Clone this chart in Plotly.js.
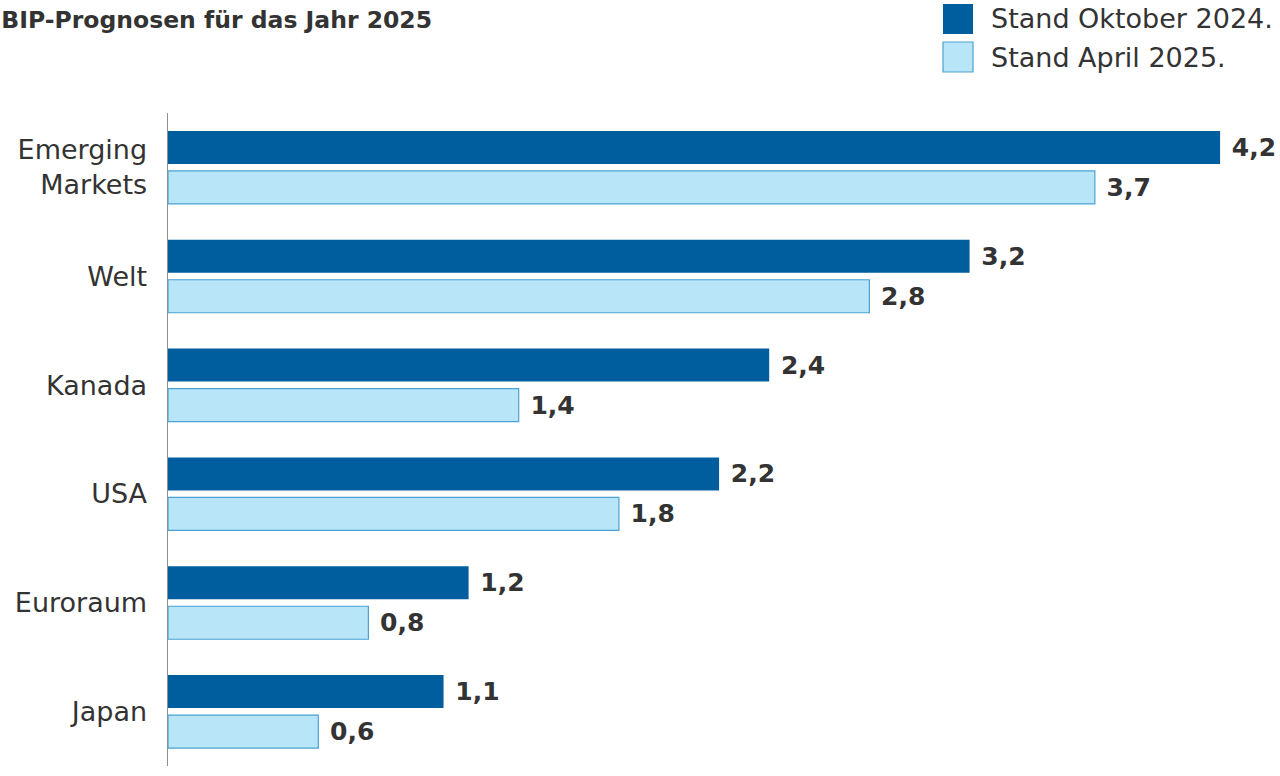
<!DOCTYPE html>
<html>
<head>
<meta charset="utf-8">
<script src="https://cdn.plot.ly/plotly-3.0.1.min.js"></script>
<style>
  html, body { margin: 0; padding: 0; background: #fff; }
  #chart { width: 1280px; height: 776px; }
</style>
</head>
<body>
<div id="chart"></div>
<script>
// ── Data ────────────────────────────────────────────────────────────
const categories = ["Emerging<br>Markets", "Welt", "Kanada", "USA", "Euroraum", "Japan"];
const seriesNames = ["Stand Oktober 2024.", "Stand April 2025."];
const oct2024 = [4.2, 3.2, 2.4, 2.2, 1.2, 1.1];
const apr2025 = [3.7, 2.8, 1.4, 1.8, 0.8, 0.6];

const DARK = "#005e9f";
const LIGHT = "#b9e5f9";
const LIGHT_LINE = "#4aa2d2";
const TEXT = "#333333";
const FONT = "'DejaVu Sans', 'Open Sans', sans-serif";

const valueFont = { family: FONT, size: 25, color: TEXT, weight: "bold" };

const traces = [
  {
    type: "bar", orientation: "h",
    name: seriesNames[0],
    y: categories, x: oct2024,
    marker: { color: DARK, line: { width: 0 } },
    texttemplate: "\u00a0%{x:.1f}",
    textposition: "outside",
    textfont: valueFont,
    constraintext: "none",
    cliponaxis: false,
    hoverinfo: "x+y",
  },
  {
    type: "bar", orientation: "h",
    name: seriesNames[1],
    y: categories, x: apr2025,
    marker: { color: LIGHT, line: { width: 1.2, color: LIGHT_LINE } },
    texttemplate: "\u00a0%{x:.1f}",
    textposition: "outside",
    textfont: valueFont,
    constraintext: "none",
    cliponaxis: false,
    hoverinfo: "x+y",
  },
];

// ── Custom legend (large square swatches) ───────────────────────────
// plot area: x 168..1260 px, y 113..766 px
const px = v => (v - 168) / 1092;
const py = v => (766 - v) / 653;

const shapes = [
  { type: "rect", xref: "paper", yref: "paper",
    x0: px(943), x1: px(973), y0: py(4), y1: py(34),
    fillcolor: DARK, line: { width: 0 } },
  { type: "rect", xref: "paper", yref: "paper",
    x0: px(943), x1: px(973), y0: py(42), y1: py(72),
    fillcolor: LIGHT, line: { width: 1.2, color: LIGHT_LINE } },
];

const annotations = [
  { xref: "paper", yref: "paper", x: px(989), y: py(19),
    xanchor: "left", yanchor: "middle", showarrow: false,
    text: seriesNames[0], font: { family: FONT, size: 27, color: TEXT } },
  { xref: "paper", yref: "paper", x: px(989), y: py(57),
    xanchor: "left", yanchor: "middle", showarrow: false,
    text: seriesNames[1], font: { family: FONT, size: 27, color: TEXT } },
];

const layout = {
  width: 1280, height: 776,
  title: {
    text: "<b>BIP-Prognosen für das Jahr 2025</b>",
    font: { family: FONT, size: 23.5, color: TEXT },
    x: 0.001, xanchor: "left", xref: "container",
    y: 0.974, yanchor: "middle", yref: "container",
  },
  separators: ", ",
  barmode: "group",
  bargap: 0.265,
  bargroupgap: 0.175,
  showlegend: false,
  margin: { l: 168, r: 20, t: 113, b: 10 },
  xaxis: {
    range: [0, 1092 / 250.5],
    visible: false,
    fixedrange: true,
  },
  yaxis: {
    type: "category",
    autorange: "reversed",
    showline: true, linecolor: "#8a8f94", linewidth: 1.5,
    showgrid: false, zeroline: false,
    ticks: "", ticklabelstandoff: 14,
    tickfont: { family: FONT, size: 27, color: TEXT },
    fixedrange: true,
  },
  shapes,
  annotations,
  plot_bgcolor: "#fff",
  paper_bgcolor: "#fff",
};

Plotly.newPlot("chart", traces, layout, { displayModeBar: false, staticPlot: true });
</script>
</body>
</html>
